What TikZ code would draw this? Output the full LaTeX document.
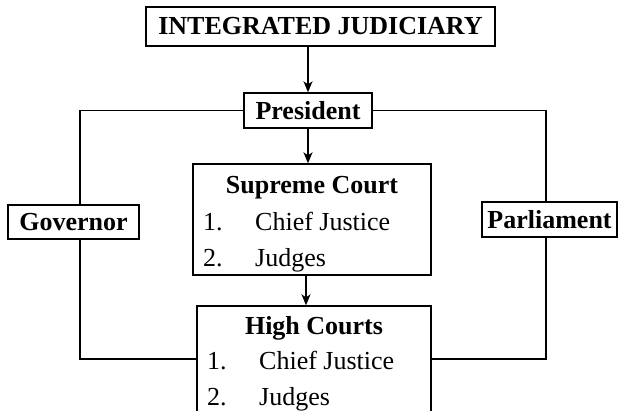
\documentclass[tikz,border=0pt]{standalone}
\usepackage{fontspec}
\setmainfont{Liberation Serif}
\usetikzlibrary{arrows.meta}
\begin{document}
\begin{tikzpicture}[x=1pt,y=-1pt,
  box/.style={draw, line width=1.4pt, inner sep=0pt, font=\fontsize{26}{30}\selectfont\bfseries},
  txt/.style={inner sep=0pt, font=\fontsize{26}{30}\selectfont},
  ttl/.style={inner sep=0pt, font=\fontsize{26}{30}\selectfont\bfseries, anchor=base},
  conn/.style={line width=1.4pt},
  arr/.style={line width=1.4pt, -{Stealth[length=11pt,width=9pt,inset=3pt]}}]
\useasboundingbox (0,0) rectangle (618,410);
\fill[white] (0,0) rectangle (618,410);
% boxes
\node[box, minimum width=349pt, minimum height=39pt] (ij) at (320.5,26.5) {INTEGRATED JUDICIARY};
\node[box, minimum width=128pt, minimum height=35pt] (pres) at (308,110.5) {President};
\node[box, minimum width=131pt, minimum height=34pt] (gov) at (73.5,222) {Governor};
\node[box, minimum width=135pt, minimum height=35pt] (parl) at (549.5,219.5) {Parliament};
\node[box, minimum width=238pt, minimum height=111pt] (sc) at (312,219.5) {};
\node[box, minimum width=234pt, minimum height=124pt] (hc) at (314,368) {};
% texts in Supreme Court
\node[ttl] (sct) at (312,193) {Supreme Court};
\node[txt, anchor=base west] (sc1n) at (203,230) {1.};
\node[txt, anchor=base west] (sc1) at (255,230) {Chief Justice};
\node[txt, anchor=base west] (sc2n) at (203,266) {2.};
\node[txt, anchor=base west] (sc2) at (255,266) {Judges};
% texts in High Courts
\node[ttl] (hct) at (314,334) {High Courts};
\node[txt, anchor=base west] (hc1n) at (207,369) {1.};
\node[txt, anchor=base west] (hc1) at (259,369) {Chief Justice};
\node[txt, anchor=base west] (hc2n) at (207,405) {2.};
\node[txt, anchor=base west] (hc2) at (259,405) {Judges};
% helper coordinates
\coordinate (gl) at (80,0);
\coordinate (gr) at (546,0);
\coordinate (hy) at (0,359);
\coordinate (a2) at (306,0);
% connectors
\draw[arr] (ij.south -| pres.north) -- (pres.north);
\draw[arr] (pres.south) -- (pres.south |- sc.north);
\draw[arr] (sc.south -| a2) -- (hc.north -| a2);
\draw[conn] (pres.west) -| (gov.north -| gl);
\draw[conn] (pres.east) -| (parl.north -| gr);
\draw[conn] (gov.south -| gl) |- (hc.west |- hy);
\draw[conn] (parl.south -| gr) |- (hc.east |- hy);
\end{tikzpicture}
\end{document}
